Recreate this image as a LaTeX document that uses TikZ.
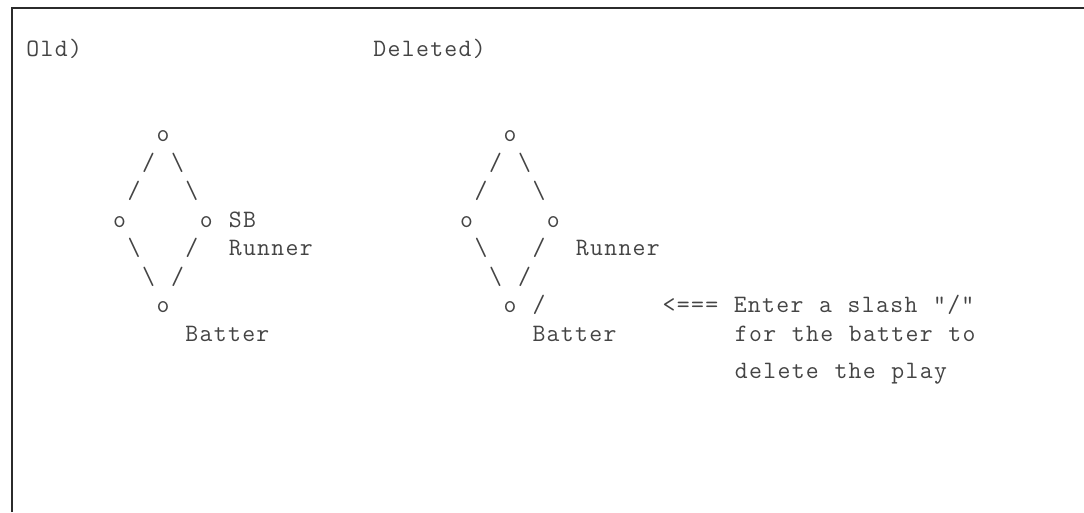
\documentclass[tikz,border=0pt]{standalone}
\usepackage{fontspec}
\newfontfamily\asciifont[LetterSpace=5.34,WordSpace={1.1017,0,0}]{Latin Modern Mono}
\definecolor{ink}{HTML}{444444}
\definecolor{framecol}{HTML}{2B2B2B}
\begin{document}
\begin{tikzpicture}[x=1pt,y=-1pt,
  txt/.style={anchor=base west, inner sep=0pt, text=ink,
    font=\asciifont\fontsize{25}{28.5}\selectfont}]
\useasboundingbox (0,0) rectangle (1084,512);
\fill[white] (0,0) rectangle (1084,512);
\draw[framecol, line width=2.2pt] (12,512) -- (12,8) -- (1084,8);
% headings
\node[txt] (oldlbl) at ({26.2+14.46*0},{56+28.5*0}) {Old)};
\node[txt] (dellbl) at ({26.2+14.46*24},{56+28.5*0}) {Deleted)};
% left diamond
\node[txt] (la1) at ({26.2+14.46*9},{56+28.5*3}) {o};
\node[txt] (lb1) at ({26.2+14.46*8},{56+28.5*4}) {/};
\node[txt] (lb2) at ({26.2+14.46*10},{56+28.5*4}) {\textbackslash};
\node[txt] (lc1) at ({26.2+14.46*7},{56+28.5*5}) {/};
\node[txt] (lc2) at ({26.2+14.46*11},{56+28.5*5}) {\textbackslash};
\node[txt] (ld1) at ({26.2+14.46*6},{56+28.5*6}) {o};
\node[txt] (ld2) at ({26.2+14.46*12},{56+28.5*6}) {o};
\node[txt] (lsb) at ({26.2+14.46*14},{56+28.5*6}) {SB};
\node[txt] (le1) at ({26.2+14.46*7},{56+28.5*7}) {\textbackslash};
\node[txt] (le2) at ({26.2+14.46*11},{56+28.5*7}) {/};
\node[txt] (lrun) at ({26.2+14.46*14},{56+28.5*7}) {Runner};
\node[txt] (lf1) at ({26.2+14.46*8},{56+28.5*8}) {\textbackslash};
\node[txt] (lf2) at ({26.2+14.46*10},{56+28.5*8}) {/};
\node[txt] (lg1) at ({26.2+14.46*9},{56+28.5*9}) {o};
\node[txt] (lbat) at ({26.2+14.46*11},{56+28.5*10}) {Batter};
% right diamond
\node[txt] (ra1) at ({26.2+14.46*33},{56+28.5*3}) {o};
\node[txt] (rb1) at ({26.2+14.46*32},{56+28.5*4}) {/};
\node[txt] (rb2) at ({26.2+14.46*34},{56+28.5*4}) {\textbackslash};
\node[txt] (rc1) at ({26.2+14.46*31},{56+28.5*5}) {/};
\node[txt] (rc2) at ({26.2+14.46*35},{56+28.5*5}) {\textbackslash};
\node[txt] (rd1) at ({26.2+14.46*30},{56+28.5*6}) {o};
\node[txt] (rd2) at ({26.2+14.46*36},{56+28.5*6}) {o};
\node[txt] (re1) at ({26.2+14.46*31},{56+28.5*7}) {\textbackslash};
\node[txt] (re2) at ({26.2+14.46*35},{56+28.5*7}) {/};
\node[txt] (rrun) at ({26.2+14.46*38},{56+28.5*7}) {Runner};
\node[txt] (rf1) at ({26.2+14.46*32},{56+28.5*8}) {\textbackslash};
\node[txt] (rf2) at ({26.2+14.46*34},{56+28.5*8}) {/};
\node[txt] (rg1) at ({26.2+14.46*33},{56+28.5*9}) {o};
\node[txt] (rslash) at ({26.2+14.46*35},{56+28.5*9}) {/};
\node[txt] (rbat) at ({26.2+14.46*35},{56+28.5*10}) {Batter};
% note
\node[txt] (note1) at ({26.2+14.46*44},{56+28.5*9}) {<=== Enter a slash "/"};
\node[txt] (note2) at ({26.2+14.46*49},{56+28.5*10}) {for the batter to};
\node[txt] (note3) at ({26.2+14.46*49},{378}) {delete the play};
\end{tikzpicture}
\end{document}
